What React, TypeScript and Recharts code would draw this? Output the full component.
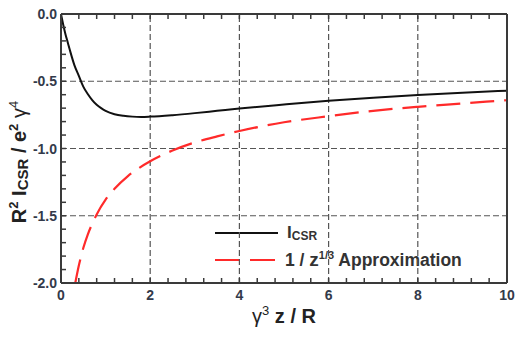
import React from 'react';
import { LineChart, Line, XAxis, YAxis, ReferenceLine } from 'recharts';

// I_CSR curve
const csrX = [0, 0.05, 0.1, 0.15, 0.2, 0.3, 0.4, 0.5, 0.6, 0.7, 0.8, 0.9, 1.0, 1.2, 1.4, 1.6, 1.8, 2.0, 2.5, 3.0, 3.5, 4.0, 5.0, 6.0, 7.0, 8.0, 9.0, 10.0];
const csrY = [0, -0.08, -0.15, -0.21, -0.27, -0.38, -0.46, -0.54, -0.595, -0.64, -0.675, -0.7, -0.72, -0.745, -0.757, -0.763, -0.765, -0.763, -0.752, -0.737, -0.72, -0.703, -0.673, -0.645, -0.622, -0.602, -0.585, -0.57];

// 1 / z^(1/3) approximation
const apxX = [0.32, 0.4, 0.5, 0.6, 0.7, 0.8, 1.0, 1.2, 1.5, 1.75, 2.0, 2.5, 3.0, 3.5, 4.0, 5.0, 6.0, 7.0, 8.0, 9.0, 10.0];
const apxY = [-2.0, -1.87, -1.74, -1.64, -1.56, -1.49, -1.38, -1.3, -1.205, -1.145, -1.095, -1.015, -0.955, -0.91, -0.87, -0.805, -0.76, -0.72, -0.69, -0.665, -0.64];

const xTicks = [0, 0.4, 0.8, 1.2, 1.6, 2, 2.4, 2.8, 3.2, 3.6, 4, 4.4, 4.8, 5.2, 5.6, 6, 6.4, 6.8, 7.2, 7.6, 8, 8.4, 8.8, 9.2, 9.6, 10];
const yTicks = [0, -0.1, -0.2, -0.3, -0.4, -0.5, -0.6, -0.7, -0.8, -0.9, -1.0, -1.1, -1.2, -1.3, -1.4, -1.5, -1.6, -1.7, -1.8, -1.9, -2.0];
const xMajor = [0, 2, 4, 6, 8, 10];
const yMajor = [0, -0.5, -1.0, -1.5, -2.0];
const xGrid = [2, 4, 6, 8];
const yGrid = [-0.5, -1.0, -1.5];

const csrData = csrX.map((x, i) => ({ x, y: csrY[i] }));
const apxData = apxX.map((x, i) => ({ x, y: apxY[i] }));

const FONT = '"Liberation Sans", Arial, Helvetica, sans-serif';
const TICK_COLOR = '#333a4a';
const FRAME = '#3a3a3a';
const TICK_LEN = 5;

const isMajor = (list: number[], v: number) => list.some((m) => Math.abs(m - v) < 1e-9);
const fmtX = (v: number) => (isMajor(xMajor, v) ? String(v) : '');
const fmtY = (v: number) => (isMajor(yMajor, v) ? (Math.abs(v) < 1e-9 ? '0.0' : v.toFixed(1)) : '');

const BottomTick = (props: any) => {
  const { x, y, payload } = props;
  const label = fmtX(payload.value);
  return (
    <g>
      <line x1={x} y1={y} x2={x} y2={y - TICK_LEN} stroke={FRAME} strokeWidth={1.5} />
      {label ? (
        <text x={x} y={y + 17} textAnchor="middle" fill={TICK_COLOR} fontSize={14} fontWeight="bold" fontFamily={FONT}>
          {label}
        </text>
      ) : null}
    </g>
  );
};

const TopTick = (props: any) => {
  const { x, y } = props;
  return <line x1={x} y1={y} x2={x} y2={y + TICK_LEN} stroke={FRAME} strokeWidth={1.5} />;
};

const LeftTick = (props: any) => {
  const { x, y, payload } = props;
  const label = fmtY(payload.value);
  return (
    <g>
      <line x1={x} y1={y} x2={x + TICK_LEN} y2={y} stroke={FRAME} strokeWidth={1.5} />
      {label ? (
        <text x={x - 4} y={y + 5} textAnchor="end" fill={TICK_COLOR} fontSize={14} fontWeight="bold" fontFamily={FONT}>
          {label}
        </text>
      ) : null}
    </g>
  );
};

const YTitle = () => (
  <text
    x={26}
    y={162}
    transform="rotate(-90, 26, 162)"
    textAnchor="middle"
    fontFamily={FONT}
    fontWeight="bold"
    fontSize={20}
    fill="#222"
  >
    <tspan>R</tspan>
    <tspan fontSize={13} dy={-8}>2</tspan>
    <tspan dy={8}> I</tspan>
    <tspan fontSize={15} dy={2}>CSR</tspan>
    <tspan dy={-2}> / e</tspan>
    <tspan fontSize={13} dy={-8}>2</tspan>
    <tspan dy={8} fontWeight="normal"> γ</tspan>
    <tspan fontSize={13} dy={-8} fontWeight="normal">4</tspan>
  </text>
);

const XTitle = () => (
  <text x={284} y={323} textAnchor="middle" fontFamily={FONT} fontWeight="bold" fontSize={20} fill="#222">
    <tspan fontWeight="normal">γ</tspan>
    <tspan fontSize={13} dy={-8} fontWeight="normal">3</tspan>
    <tspan dy={8}> z / R</tspan>
  </text>
);

const LegendBox = () => (
  <g>
    <line x1={215} y1={233} x2={278} y2={233} stroke="#111" strokeWidth={2} />
    <text x={287} y={238} fontFamily={FONT} fontWeight="bold" fontSize={17} fill="#333">
      <tspan>I</tspan>
      <tspan fontSize={12} dy={2}>CSR</tspan>
    </text>
    <line x1={215} y1={260} x2={278} y2={260} stroke="#ff2a2a" strokeWidth={2.2} strokeDasharray="25 10" />
    <text x={285} y={266} fontFamily={FONT} fontWeight="bold" fontSize={17.5} fill="#333">
      <tspan>1 / </tspan>
      <tspan fontSize={19}>z</tspan>
      <tspan fontSize={11} dy={-7}>1/3</tspan>
      <tspan dy={7}> Approximation</tspan>
    </text>
  </g>
);

export default function App() {
  return (
    <div style={{ position: 'absolute', left: 0, top: 0, width: 518, height: 337, background: '#fff' }}>
      <LineChart width={518} height={337} data={csrData} margin={{ top: 13, right: 10, bottom: 0, left: 0 }}>
        <XAxis
          type="number"
          dataKey="x"
          domain={[0, 10]}
          ticks={xTicks}
          interval={0}
          height={54}
          tickSize={0}
          tickMargin={0}
          axisLine={{ stroke: FRAME, strokeWidth: 2 }}
          tick={<BottomTick />}
          label={() => <XTitle />}
        />
        <XAxis
          xAxisId="top"
          orientation="top"
          type="number"
          dataKey="x"
          domain={[0, 10]}
          ticks={xTicks}
          interval={0}
          height={1}
          tickSize={0}
          tickMargin={0}
          axisLine={{ stroke: FRAME, strokeWidth: 2 }}
          tick={<TopTick />}
        />
        <YAxis
          type="number"
          dataKey="y"
          domain={[-2, 0]}
          ticks={yTicks}
          interval={0}
          width={61}
          tickSize={0}
          tickMargin={0}
          axisLine={{ stroke: FRAME, strokeWidth: 2 }}
          tick={<LeftTick />}
          label={() => <YTitle />}
        />
        <YAxis
          yAxisId="right"
          orientation="right"
          type="number"
          dataKey="y"
          domain={[-2, 0]}
          width={1}
          tick={false}
          axisLine={{ stroke: FRAME, strokeWidth: 2 }}
        />
        {xGrid.map((g) => (
          <ReferenceLine key={'gx' + g} x={g} stroke="#555" strokeWidth={1.2} strokeDasharray="6 3" />
        ))}
        {yGrid.map((g) => (
          <ReferenceLine key={'gy' + g} y={g} stroke="#555" strokeWidth={1.2} strokeDasharray="6 3" />
        ))}
        <Line
          data={csrData}
          dataKey="y"
          type="monotone"
          stroke="#111"
          strokeWidth={2}
          dot={false}
          isAnimationActive={false}
        />
        <Line
          data={apxData}
          dataKey="y"
          type="monotone"
          stroke="#ff2a2a"
          strokeWidth={2.2}
          strokeDasharray="24 10"
          dot={false}
          isAnimationActive={false}
        />
        <LegendBox />
      </LineChart>
    </div>
  );
}
